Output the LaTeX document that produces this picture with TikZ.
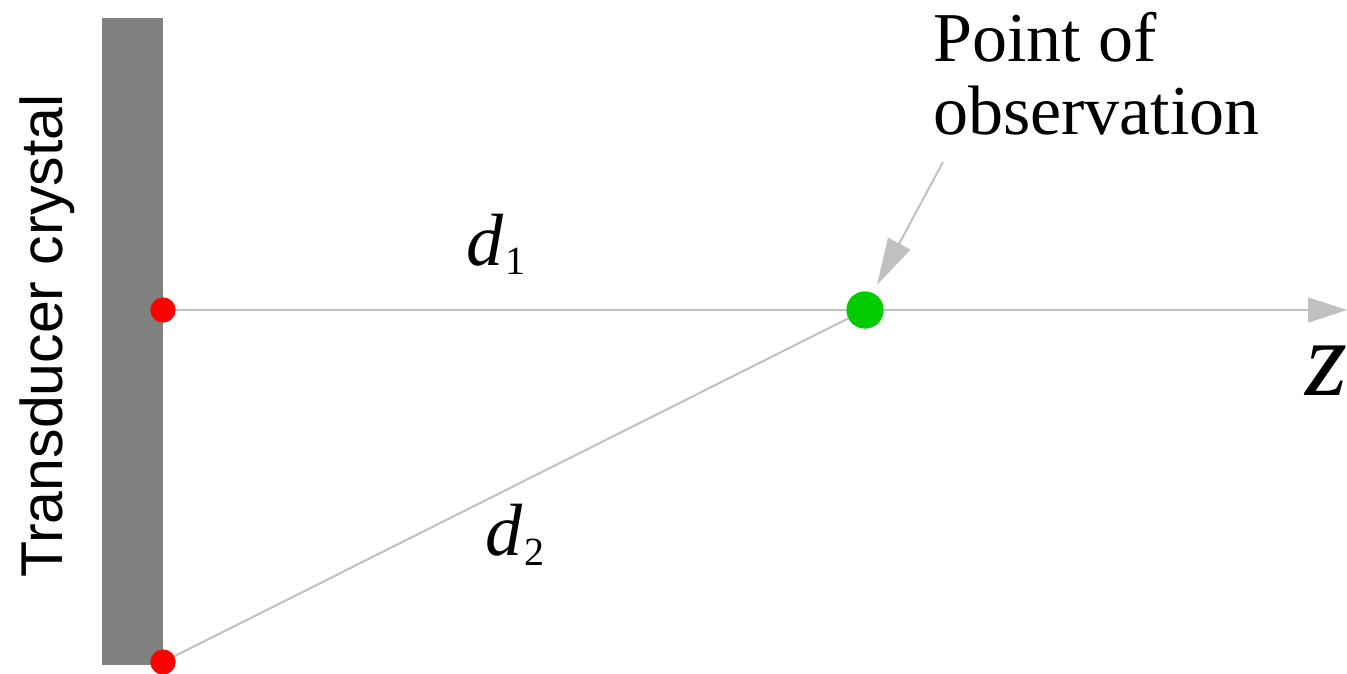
\documentclass[tikz,border=0pt]{standalone}
\usepackage{fontspec}
\setmainfont{Liberation Serif}
\setsansfont{Liberation Sans}
\usetikzlibrary{arrows.meta}
\definecolor{crystalgray}{HTML}{808080}
\definecolor{linegray}{HTML}{C0C0C0}
\definecolor{dotgreen}{HTML}{00CC00}
\definecolor{dotred}{HTML}{FF0000}
\tikzset{
  guide/.style={draw=linegray, line width=2pt},
  reddot/.style={circle, fill=dotred, inner sep=0pt, minimum size=25pt},
  greendot/.style={circle, fill=dotgreen, inner sep=0pt, minimum size=37pt},
  lbl/.style={inner sep=0pt, font=\fontsize{74}{74}\selectfont\itshape},
}
\begin{document}
\begin{tikzpicture}[x=1pt,y=-1pt]
\useasboundingbox (0,0) rectangle (1347,674);
% crystal
\node[fill=crystalgray, inner sep=0pt, minimum width=61pt, minimum height=647pt, anchor=north west] (crystal) at (102,18) {};
\node[rotate=90, anchor=base, inner sep=0pt, font=\sffamily\fontsize{59}{59}\selectfont] (tlabel) at (62,336) {Transducer crystal};
% points
\coordinate (zend) at (1347,310);
\node[reddot] (s1) at (163,310) {};
\node[reddot] (s2) at (163,662) {};
\node[greendot] (obs) at (865,310) {};
\draw[guide, -{Triangle[length=39pt,width=25pt]}] (s1.center) -- (zend);
\draw[guide] (s2.center) -- (obs.center);
\node[reddot] at (s1) {};
\node[reddot] at (s2) {};
\node[greendot] at (obs) {};
% labels
\node[anchor=base west, inner sep=0pt, align=left, font=\fontsize{70}{73}\selectfont] (poLabel) at (933,135) {Point of\\observation};
\coordinate (ptail) at (943,162);
\coordinate (phead) at (877,285);
\draw[guide, -{Triangle[length=47pt,width=25pt]}] (ptail) -- (phead);
\node[lbl, anchor=base west] (d1) at (466,265) {d\fontsize{40}{40}\selectfont\upshape\kern2pt\raisebox{-9pt}{1}};
\node[lbl, anchor=base west] (d2) at (485,555) {d\fontsize{40}{40}\selectfont\upshape\kern2pt\raisebox{-10pt}{2}};
\node[anchor=base west, inner sep=0pt, font=\fontsize{108}{108}\selectfont\itshape] (zlabel) at (1305,395) {z};
\end{tikzpicture}
\end{document}
